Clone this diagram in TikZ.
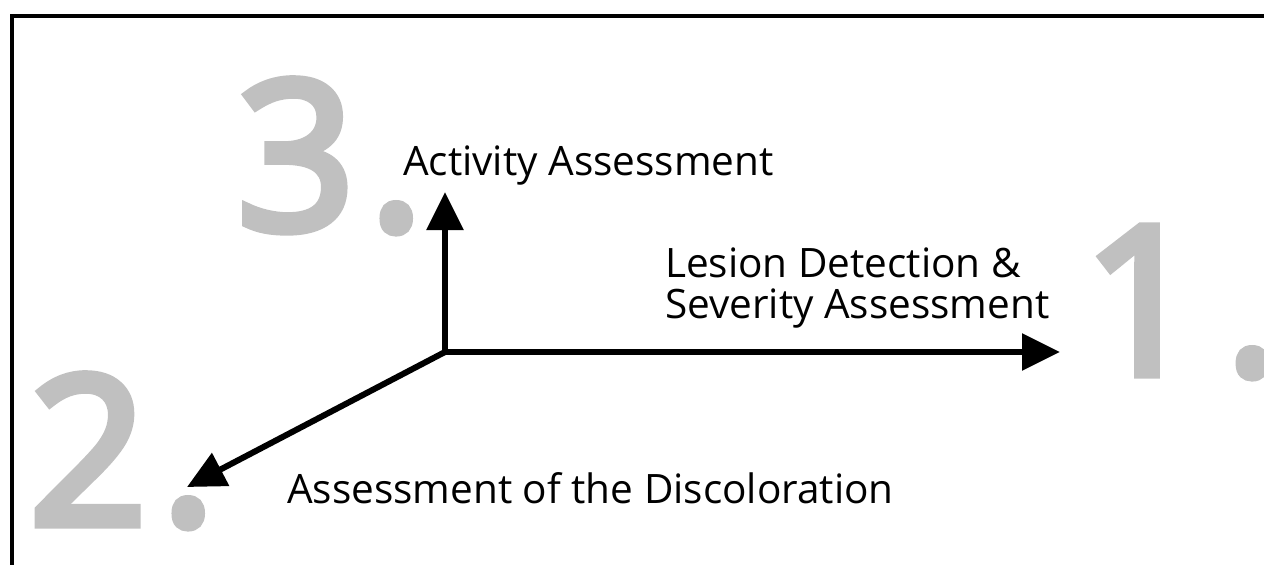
\documentclass[tikz,border=0pt]{standalone}
\usepackage{fontspec}
\setmainfont{Open Sans}
\newfontfamily\stepfont[BoldFont={Open Sans},BoldFeatures={FakeBold=4.5}]{Open Sans}
\usetikzlibrary{arrows.meta}
\definecolor{numgray}{RGB}{192,192,192}

\begin{document}
\begin{tikzpicture}[x=1pt,y=-1pt,
  axis/.style={line width=6pt,-{Triangle[length=38pt,width=36pt]}},
  caption/.style={font=\fontsize{40.5}{41}\selectfont,inner sep=0pt},
  bignum/.style={text=numgray,font=\stepfont\fontsize{206}{206}\selectfont\bfseries,inner sep=0pt}]
\useasboundingbox (0,0) rectangle (1264,565);
% frame (only top and left edges show)
\draw[line width=4pt] (1264,16) -- (12,16) -- (12,565);
% step numbers
\node[bignum,anchor=base west] (n3) at (237,229) {3\kern14pt.};
\node[bignum,anchor=base west] (n2) at (29,524) {2\kern14pt.};
\node[bignum,anchor=base west] (n1) at (1083,374) {1\kern24pt.};
% axes
\coordinate (o) at (445,352);
\coordinate (up) at (445,192);
\coordinate (right) at (1060,352);
\coordinate (down) at (187,487);
\draw[axis] (o) -- (up);
\draw[axis] (o) -- (right);
\draw[axis] (o) -- (down);
% labels
\node[caption,anchor=base west] (act) at (403,175) {Activity Assessment};
\node[caption,anchor=north west,align=left] (les) at (665,248) {Lesion Detection \&\\Severity Assessment};
\node[caption,anchor=base west] (dis) at (287,503) {Assessment of the Discoloration};
\end{tikzpicture}
\end{document}
